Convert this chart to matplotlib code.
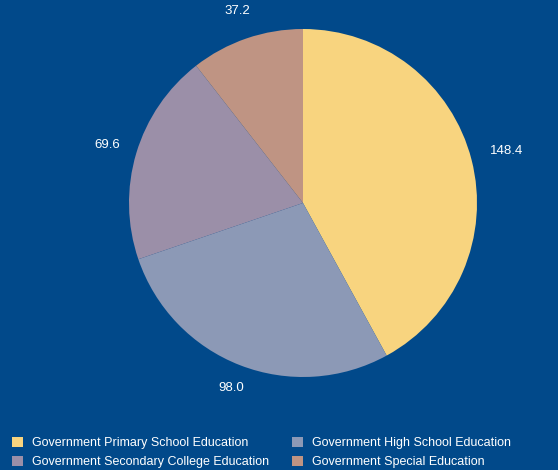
import matplotlib
matplotlib.use("Agg")
import matplotlib.pyplot as plt
from matplotlib.patches import Patch
import numpy as np

categories = ["Government Primary School Education", "Government High School Education",
              "Government Secondary College Education", "Government Special Education"]
values = [148.4, 98.0, 69.6, 37.2]
labels = ["148.4", "98.0", "69.6", "37.2"]
colors = ["#f8d47f", "#8c99b6", "#9b8fa8", "#bf9483"]
label_dist = [1.21, 1.14, 1.175, 1.165]
bg = "#01498a"

W, H = 558, 470
fig = plt.figure(figsize=(W/100, H/100), dpi=100, facecolor=bg)
cx, cy, R = 303, 203, 174
L = 1.45
half = R * L
ax = fig.add_axes([(cx-half)/W, (H-cy-half)/H, 2*half/W, 2*half/H])
ax.set_facecolor(bg)
wedges, _ = ax.pie(values, colors=colors, startangle=90, counterclock=False, radius=1,
                   wedgeprops=dict(linewidth=0))
for w, lab, d in zip(wedges, labels, label_dist):
    ang = np.deg2rad((w.theta1 + w.theta2) / 2)
    ax.text(d*np.cos(ang), d*np.sin(ang), lab, ha="center", va="center",
            color="white", fontsize=9.5, family="Liberation Sans")
ax.set_xlim(-L, L)
ax.set_ylim(-L, L)
ax.axis("off")

handles = [Patch(facecolor=c, edgecolor="none") for c in colors]
order = [0, 2, 1, 3]
fig.legend([handles[i] for i in order], [categories[i] for i in order], ncol=2,
           loc="lower left", bbox_to_anchor=(12/W, 2/H), frameon=False,
           borderpad=0, borderaxespad=0,
           prop=dict(family="Liberation Sans", size=9), labelcolor="white",
           handlelength=0.88, handleheight=0.88, handletextpad=0.72, columnspacing=1.84,
           labelspacing=0.5)
fig.savefig("out.png", dpi=100, facecolor=bg)
